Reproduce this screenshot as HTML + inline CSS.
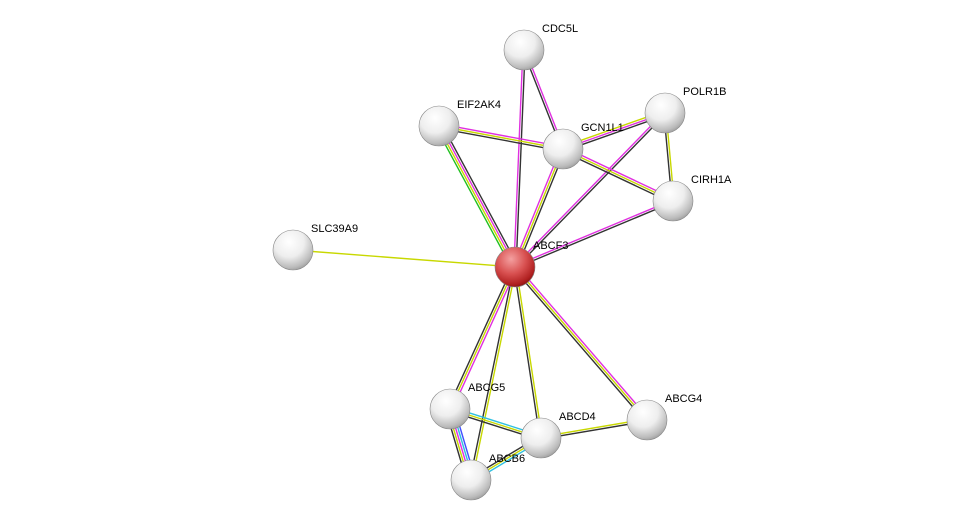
<!DOCTYPE html>
<html><head><meta charset="utf-8"><style>
html,body{margin:0;padding:0;background:#fff}
svg{display:block}
text{font-family:"Liberation Sans",sans-serif;font-size:11px;fill:#000}
</style></head><body>
<svg id="s" width="975" height="525" viewBox="0 0 975 525">
<defs>
<radialGradient id="g" cx="0.4" cy="0.3" r="0.75">
<stop offset="0" stop-color="#ffffff"/><stop offset="0.5" stop-color="#eeeeee"/><stop offset="0.85" stop-color="#bbbbbb"/><stop offset="1" stop-color="#999"/>
</radialGradient>
<radialGradient id="r" cx="0.4" cy="0.3" r="0.75">
<stop offset="0" stop-color="#f4a0a0"/><stop offset="0.5" stop-color="#d85050"/><stop offset="0.85" stop-color="#b02020"/><stop offset="1" stop-color="#801010"/>
</radialGradient>
</defs>
<g id="edges"></g>
<g id="nodes"></g>
</svg>
<script>
var N={CDC5L:[524,50],EIF2AK4:[439,126],GCN1L1:[563,149],POLR1B:[665,113],CIRH1A:[673,201],SLC39A9:[293,250],ABCF3:[515,267],ABCG5:[450,409],ABCD4:[541,438],ABCG4:[647,420],ABCB6:[471,480]};
var C={m:"#e030e0",y:"#c8d800",k:"#333333",g:"#20c020",c:"#30c0e0",b:"#4050ff"};
var E=[["ABCF3","CDC5L","mk"],["ABCF3","EIF2AK4","gymk"],["ABCF3","GCN1L1","myk"],["ABCF3","POLR1B","mk"],["ABCF3","CIRH1A","mk"],["ABCF3","SLC39A9","y"],["ABCF3","ABCG5","myk"],["ABCF3","ABCB6","yk"],["ABCF3","ABCD4","yk"],["ABCF3","ABCG4","myk"],["CDC5L","GCN1L1","mk"],["EIF2AK4","GCN1L1","myk"],["GCN1L1","POLR1B","ymk"],["GCN1L1","CIRH1A","myk"],["POLR1B","CIRH1A","yk"],["ABCG5","ABCD4","cyk"],["ABCG5","ABCB6","bcmyk"],["ABCD4","ABCB6","cyk"],["ABCD4","ABCG4","yk"]];
var ns="http://www.w3.org/2000/svg",eg=document.getElementById("edges"),ng=document.getElementById("nodes");
E.forEach(function(e){var a=N[e[0]],b=N[e[1]],dx=b[0]-a[0],dy=b[1]-a[1],L=Math.hypot(dx,dy),px=-dy/L,py=dx/L,n=e[2].length;
for(var i=0;i<n;i++){var o=(i-(n-1)/2)*2.2,l=document.createElementNS(ns,"line");
l.setAttribute("x1",a[0]+px*o);l.setAttribute("y1",a[1]+py*o);l.setAttribute("x2",b[0]+px*o);l.setAttribute("y2",b[1]+py*o);
l.setAttribute("stroke",C[e[2][i]]);l.setAttribute("stroke-width","1.4");eg.appendChild(l);}});
for(var k in N){var p=N[k],c=document.createElementNS(ns,"circle");c.setAttribute("cx",p[0]);c.setAttribute("cy",p[1]);c.setAttribute("r",k=="ABCF3"?20:20);
c.setAttribute("fill",k=="ABCF3"?"url(#r)":"url(#g)");c.setAttribute("stroke","#888");c.setAttribute("stroke-width","0.6");ng.appendChild(c);
var t=document.createElementNS(ns,"text");t.setAttribute("x",p[0]+18);t.setAttribute("y",p[1]-18);t.textContent=k;ng.appendChild(t);}
</script>
</body></html>
